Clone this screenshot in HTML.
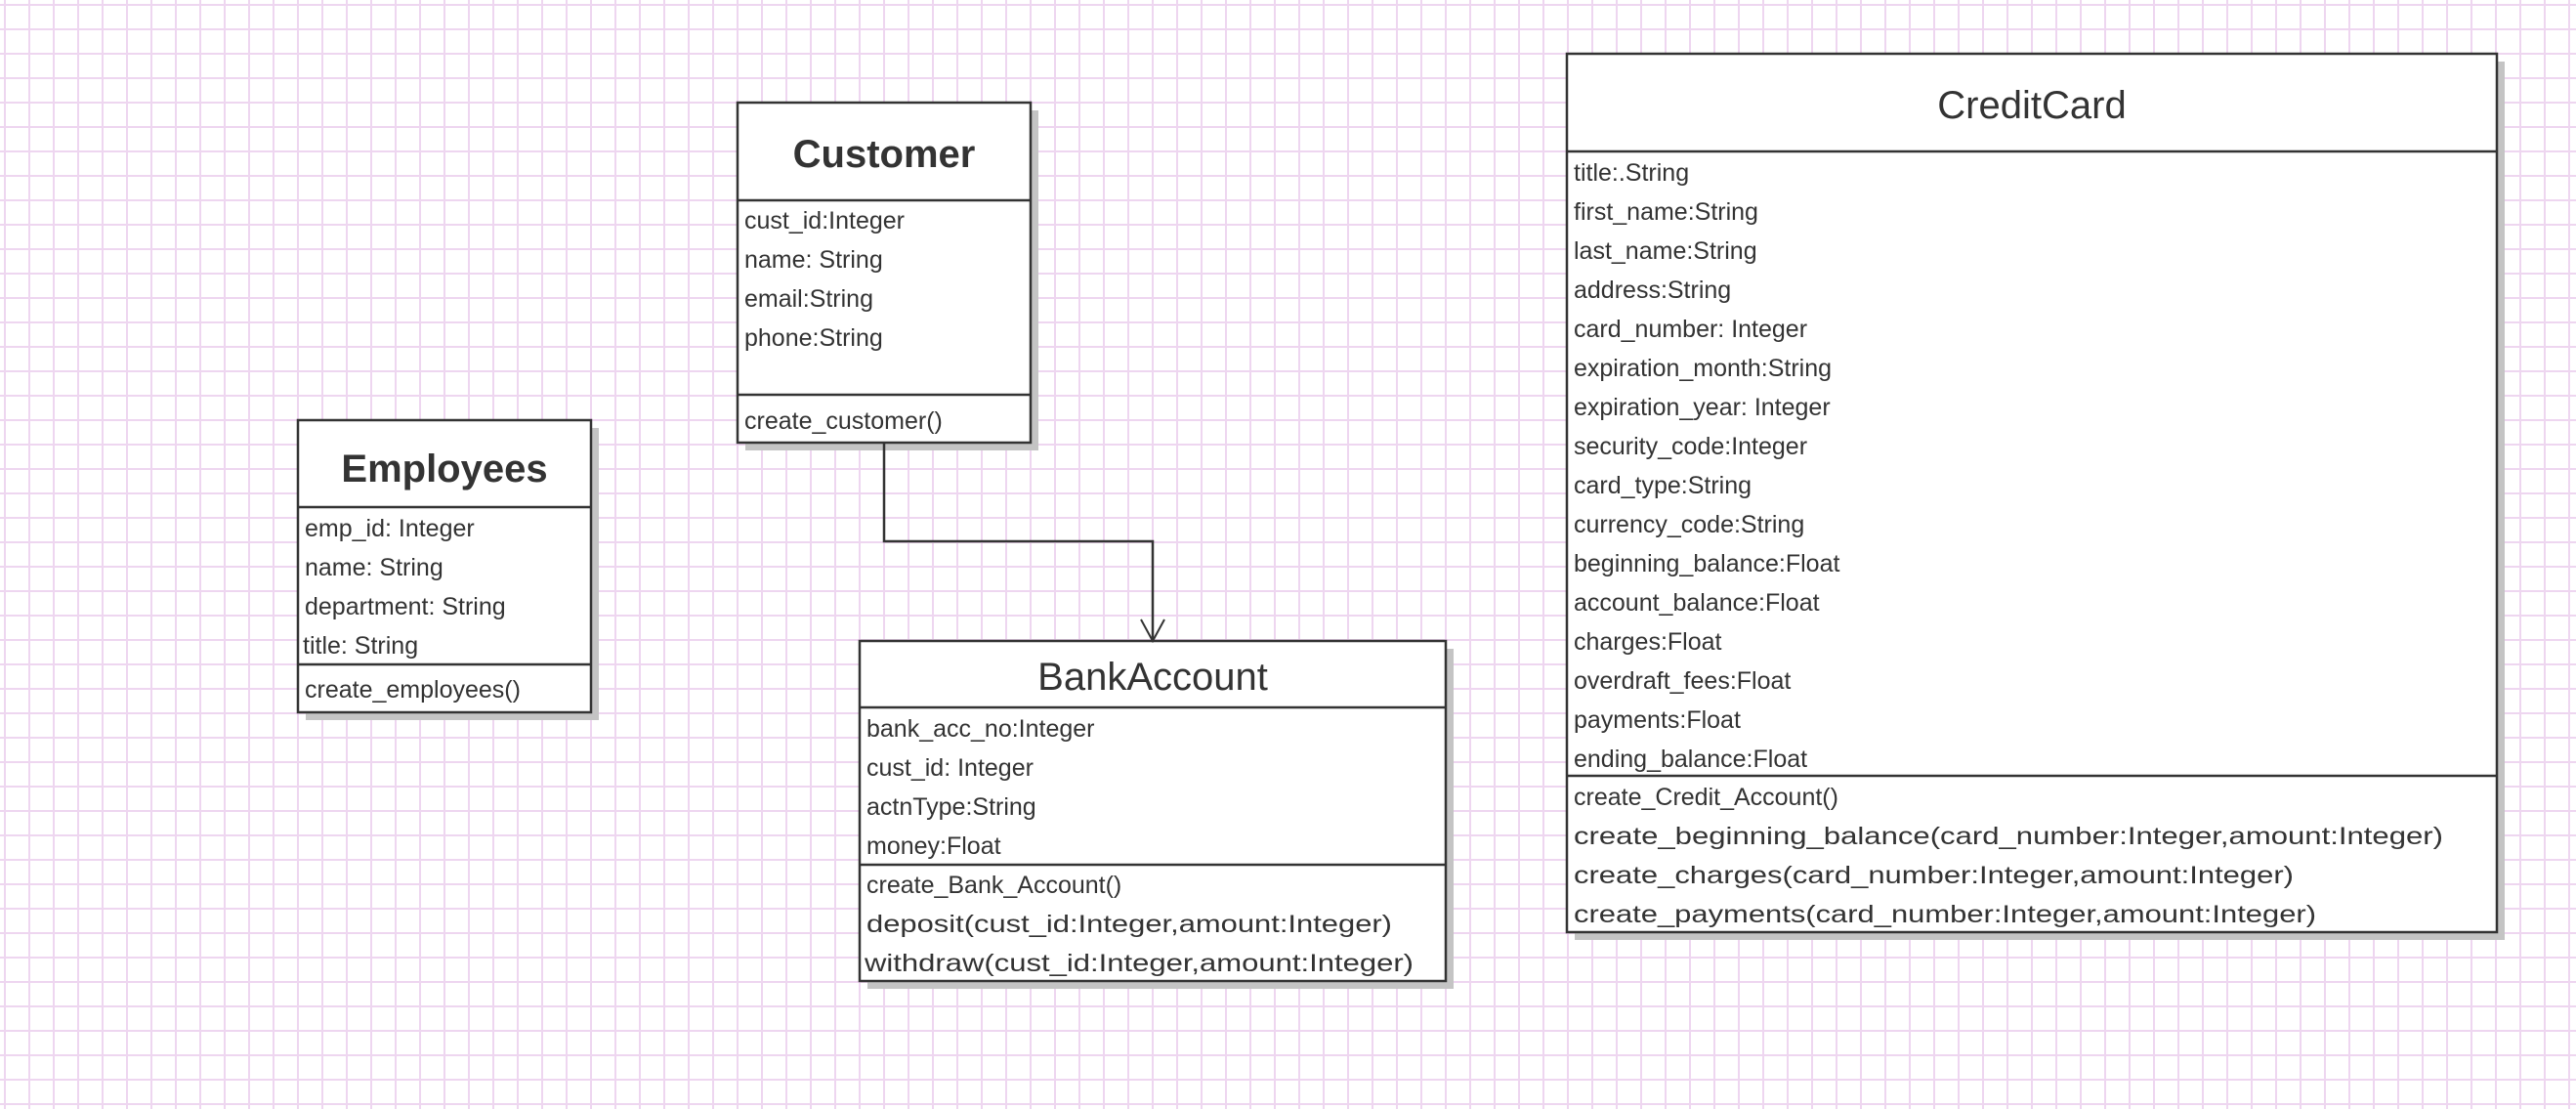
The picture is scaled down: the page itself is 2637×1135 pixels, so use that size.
<!DOCTYPE html>
<html><head><meta charset="utf-8"><style>
html,body{margin:0;padding:0;background:#fff}
svg{display:block}
text{font-family:"Liberation Sans",sans-serif;fill:#333}
.r{font-size:25px}
.t{font-size:40px;text-anchor:middle;dominant-baseline:central}
.b{font-weight:bold}
</style></head><body>
<svg width="2637" height="1135" viewBox="0 0 2637 1135" xmlns="http://www.w3.org/2000/svg">
<defs>
<pattern id="g" x="4" y="4" width="25" height="25" patternUnits="userSpaceOnUse">
<rect x="0" y="0" width="2" height="25" fill="#eed6f0"/>
<rect x="0" y="0" width="25" height="2" fill="#eed6f0"/>
</pattern>
</defs>
<rect width="2637" height="1135" fill="#fff"/>
<rect width="2637" height="1135" fill="url(#g)"/>

<g stroke="#333" stroke-width="2.5" fill="#fff">
<rect x="313" y="438" width="300" height="299" fill="#c4c4c4" stroke="none"/>
<rect x="763" y="113" width="300" height="348" fill="#c4c4c4" stroke="none"/>
<rect x="888" y="664" width="600" height="348" fill="#c4c4c4" stroke="none"/>
<rect x="1612" y="63" width="952" height="899" fill="#c4c4c4" stroke="none"/>
<rect x="305" y="430" width="300" height="299"/>
<line x1="305" y1="519" x2="605" y2="519"/>
<line x1="305" y1="680" x2="605" y2="680"/>
<rect x="755" y="105" width="300" height="348"/>
<line x1="755" y1="205" x2="1055" y2="205"/>
<line x1="755" y1="404" x2="1055" y2="404"/>
<rect x="880" y="656" width="600" height="348"/>
<line x1="880" y1="724" x2="1480" y2="724"/>
<line x1="880" y1="885" x2="1480" y2="885"/>
<rect x="1604" y="55" width="952" height="899"/>
<line x1="1604" y1="155" x2="2556" y2="155"/>
<line x1="1604" y1="794" x2="2556" y2="794"/>
<polyline points="905,453 905,554 1180,554 1180,656" fill="none"/>
<polyline points="1168,634 1180,656 1192,634" fill="none" stroke-width="2"/>
</g>

<text class="t b" x="455" y="480">Employees</text>
<g class="r">
<text x="312" y="549">emp_id: Integer</text>
<text x="312" y="589">name: String</text>
<text x="312" y="629">department: String</text>
<text x="310" y="669">title: String</text>
<text x="312" y="714">create_employees()</text>
</g>

<text class="t b" x="905" y="158">Customer</text>
<g class="r">
<text x="762" y="234">cust_id:Integer</text>
<text x="762" y="274">name: String</text>
<text x="762" y="314">email:String</text>
<text x="762" y="354">phone:String</text>
<text x="762" y="439">create_customer()</text>
</g>

<text class="t" x="1180" y="693">BankAccount</text>
<g class="r">
<text x="887" y="754">bank_acc_no:Integer</text>
<text x="887" y="794">cust_id: Integer</text>
<text x="887" y="834">actnType:String</text>
<text x="887" y="874">money:Float</text>
<text x="887" y="914">create_Bank_Account()</text>
<text x="887" y="954" textLength="538" lengthAdjust="spacingAndGlyphs">deposit(cust_id:Integer,amount:Integer)</text>
<text x="885" y="994" textLength="562" lengthAdjust="spacingAndGlyphs">withdraw(cust_id:Integer,amount:Integer)</text>
</g>

<text class="t" x="2080" y="108">CreditCard</text>
<g class="r">
<text x="1611" y="185">title:.String</text>
<text x="1611" y="225">first_name:String</text>
<text x="1611" y="265">last_name:String</text>
<text x="1611" y="305">address:String</text>
<text x="1611" y="345">card_number: Integer</text>
<text x="1611" y="385">expiration_month:String</text>
<text x="1611" y="425">expiration_year: Integer</text>
<text x="1611" y="465">security_code:Integer</text>
<text x="1611" y="505">card_type:String</text>
<text x="1611" y="545">currency_code:String</text>
<text x="1611" y="585">beginning_balance:Float</text>
<text x="1611" y="625">account_balance:Float</text>
<text x="1611" y="665">charges:Float</text>
<text x="1611" y="705">overdraft_fees:Float</text>
<text x="1611" y="745">payments:Float</text>
<text x="1611" y="785">ending_balance:Float</text>
<text x="1611" y="824">create_Credit_Account()</text>
<text x="1611" y="864" textLength="890" lengthAdjust="spacingAndGlyphs">create_beginning_balance(card_number:Integer,amount:Integer)</text>
<text x="1611" y="904" textLength="737" lengthAdjust="spacingAndGlyphs">create_charges(card_number:Integer,amount:Integer)</text>
<text x="1611" y="944" textLength="760" lengthAdjust="spacingAndGlyphs">create_payments(card_number:Integer,amount:Integer)</text>
</g>
</svg>
</body></html>
